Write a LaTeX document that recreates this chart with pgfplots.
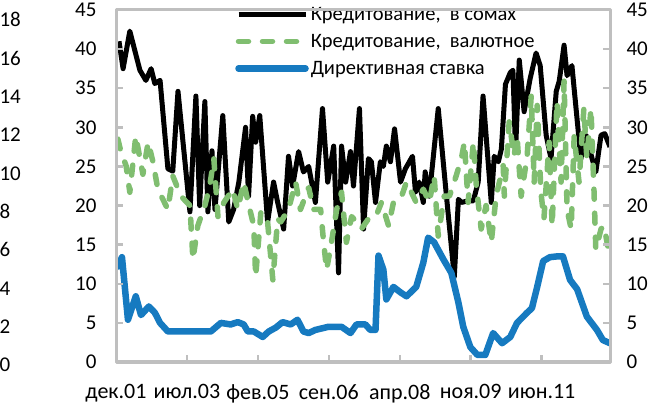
\documentclass[border=0pt]{standalone}
\usepackage{fontspec}
\setmainfont{Carlito}
\usepackage{pgfplots}
\usepackage{pgfplotstable}
\pgfplotsset{compat=1.18}

\definecolor{somblack}{RGB}{0,0,0}
\definecolor{valgreen}{RGB}{128,190,112}
\definecolor{rateblue}{RGB}{22,122,192}
\definecolor{framegray}{RGB}{191,191,191}

% m = months since Dec 2001, v = per cent (right-hand scale)
\pgfplotstableread{
m v
0.8 41.0
1.9 37.5
3.7 42.3
6.4 37.3
8.0 36.0
9.4 37.5
10.4 35.6
11.8 36.0
13.9 24.7
15.2 24.4
16.6 34.6
19.8 19.2
21.4 34.0
22.4 20.0
23.8 33.3
24.6 19.2
25.7 27.0
26.5 19.5
28.6 31.5
30.2 17.9
31.5 19.5
32.9 23.0
34.7 30.0
35.5 21.2
36.6 31.4
37.4 28.1
38.5 31.5
40.6 17.9
42.2 23.0
43.3 20.4
44.9 17.0
46.2 26.3
47.3 22.5
48.9 26.9
50.2 24.3
51.6 25.0
53.4 20.4
55.3 32.4
56.7 23.0
58.3 27.6
59.6 11.4
60.4 27.6
61.5 23.0
62.8 26.9
63.6 22.5
65.2 32.4
66.3 17.0
67.6 26.0
68.4 25.6
69.5 20.4
70.8 25.6
71.6 25.0
72.4 27.6
73.5 25.6
74.6 29.8
76.2 23.0
77.5 24.7
79.4 26.3
80.2 21.7
81.2 23.0
82.3 20.4
82.8 24.3
83.9 21.2
86.3 32.4
88.5 21.2
90.6 10.9
91.7 20.8
92.5 20.4
94.3 20.6
95.7 20.6
97.0 23.0
98.3 34.0
100.5 20.4
101.3 26.3
102.4 25.6
103.2 27.2
104.3 35.5
105.6 37.0
106.3 37.3
107.0 27.0
108.0 38.6
109.3 32.0
110.9 36.2
112.5 39.5
113.6 37.9
115.2 29.0
116.5 26.0
117.9 34.6
118.7 35.9
120.0 40.5
120.8 36.6
122.1 37.9
124.5 26.0
125.9 29.0
127.5 26.0
128.5 24.3
129.9 29.0
130.9 29.2
132.3 27.5
}\somtable

\pgfplotstableread{
m v
0.5 28.5
1.3 26.9
2.7 25.1
3.7 21.7
5.3 28.9
7.2 24.0
8.6 28.1
9.9 25.6
11.2 22.1
13.9 19.5
15.2 23.8
17.4 21.2
19.8 20.0
20.6 13.1
21.9 17.4
23.8 20.0
25.1 22.5
26.2 26.0
27.3 18.6
28.9 20.4
31.3 22.1
32.6 19.5
34.2 23.0
35.3 20.6
36.9 17.4
37.4 10.9
38.8 19.2
40.6 17.9
42.0 10.5
43.3 18.3
44.1 17.9
46.2 19.5
48.1 23.0
49.4 19.5
51.6 22.3
52.9 19.5
54.8 19.5
55.6 15.3
56.4 11.8
57.7 15.3
59.1 19.5
60.4 21.7
61.7 15.3
63.1 18.6
64.4 17.9
65.7 17.0
67.6 18.3
69.5 18.5
71.1 20.4
73.0 17.4
74.3 20.4
76.2 20.8
77.8 23.0
79.6 21.2
80.4 20.4
82.3 22.1
83.9 20.4
85.2 23.8
86.3 16.1
87.9 21.2
89.3 21.2
91.1 23.8
92.5 26.0
93.3 28.1
94.3 20.4
95.7 28.1
96.5 22.5
97.8 17.0
99.1 20.0
100.5 15.3
101.8 21.2
103.7 25.1
104.0 21.2
105.3 30.7
106.6 26.3
107.4 28.9
108.5 21.2
110.1 26.3
111.2 34.0
112.0 23.0
112.8 32.8
113.8 21.7
114.6 18.3
116.0 28.1
116.8 17.4
118.1 33.3
119.2 23.0
120.0 35.9
120.8 19.5
121.9 17.0
122.7 28.9
124.0 23.0
125.3 32.4
126.1 26.0
127.2 32.4
128.0 22.1
128.5 14.4
129.9 17.0
130.7 17.4
132.0 14.0
}\valtable

\pgfplotstableread{
m v
0.5 12.2
1.6 13.4
3.2 5.4
5.3 8.4
6.7 6.0
8.8 7.1
10.4 6.3
11.8 5.0
13.9 3.9
25.4 3.9
28.1 5.0
30.7 4.8
32.6 5.1
34.2 4.8
35.3 3.9
36.9 3.9
39.3 3.2
40.9 3.9
42.8 4.4
44.6 5.1
46.8 4.8
48.6 5.4
50.2 3.9
51.6 3.7
53.4 4.1
56.9 4.5
60.4 4.5
62.8 3.7
64.4 4.8
66.8 4.8
68.1 4.1
69.5 4.1
70.3 13.6
71.6 11.8
72.4 8.0
74.3 9.6
76.2 8.9
77.8 8.4
80.4 9.6
82.3 12.7
83.6 15.9
85.2 15.3
87.7 13.1
89.8 11.4
91.7 7.6
93.0 4.5
94.9 1.9
96.8 0.9
98.9 0.9
101.0 3.7
103.4 2.4
105.6 3.2
107.4 5.0
110.1 6.3
111.4 6.9
112.8 9.6
114.4 12.9
116.2 13.4
118.1 13.5
119.7 13.5
121.6 10.5
123.5 9.3
126.1 5.8
128.8 4.1
130.4 2.8
132.3 2.4
}\ratetable

\pgfplotsset{
  baseframe/.style={
    at={(116pt,42pt)}, anchor=south west,
    scale only axis, width=494pt, height=352pt,
    xmin=0, xmax=132.3,
    yticklabel style={font=\fontsize{21}{24}\selectfont},
    xticklabel style={font=\fontsize{22}{25}\selectfont},
    /pgf/number format/assume math mode=true,
  },
}

\begin{document}
\begin{tikzpicture}
\path[use as bounding box] (0pt,0pt) rectangle (658pt,404pt);

% outer left scale 0-18
\begin{axis}[
  baseframe,
  ymin=0, ymax=18.36,
  axis line style={draw=none},
  major tick length=0pt,
  xtick=\empty,
  ytick={0,2,...,18},
  yticklabel style={anchor=west, xshift=-120pt, yshift=-3pt},
]
\end{axis}

% right-hand labels 0-45
\begin{axis}[
  baseframe,
  ymin=0, ymax=45,
  axis line style={draw=none},
  major tick length=0pt,
  xtick=\empty,
  ytick={0,5,...,45},
  yticklabel pos=right,
  yticklabel style={anchor=west, xshift=13pt},
]
\end{axis}

% main axis
\begin{axis}[
  baseframe,
  ymin=0, ymax=45,
  axis line style={draw=framegray, line width=3pt},
  major tick style={draw=framegray, line width=2.5pt},
  major tick length=7pt, tick align=inside,
  xtick={0,19,38,57,76,95,114},
  xticklabels={дек.01,июл.03,фев.05,сен.06,апр.08,ноя.09,июн.11},
  xtick pos=lower,
  xticklabel style={yshift=-19pt},
  ytick={0,5,...,45},
  ytick pos=both,
  yticklabel pos=left,
  yticklabel style={xshift=-16pt},
  legend style={
    at={(axis description cs:0.241,1.015)}, anchor=north west,
    draw=none, fill=none, font=\fontsize{20.5}{23}\selectfont,
    inner sep=0pt, row sep=8.5pt,
  },
  legend cell align=left,
  legend image code/.code={\draw[#1] (0pt,0pt) -- (67pt,0pt);},
  line join=round,
]
\addplot[somblack, line width=5pt] table[x=m, y=v] {\somtable};
\addlegendentry{Кредитование,\ \ в сомах}
\addplot[valgreen, line width=5.5pt, line cap=round, dash pattern=on 10pt off 14pt] table[x=m, y=v] {\valtable};
\addlegendentry{Кредитование,\ \ валютное}
\addplot[rateblue, line width=6.5pt, line cap=round] table[x=m, y=v] {\ratetable};
\addlegendentry{Директивная ставка}
\end{axis}

% plot-area frame and inward ticks
\begin{scope}[framegray]
  \draw[line width=3pt] (116pt,42pt) -- (116pt,394pt);
  \draw[line width=3pt] (116pt,42pt) -- (610pt,42pt);
  \draw[line width=3pt] (116pt,394pt) -- (610pt,394pt);
  \draw[line width=3pt] (610pt,42pt) -- (610pt,394pt);
  \foreach \tx in {186.9,257.9,328.8,399.8,470.7,541.6}
    \draw[line width=2.5pt] (\tx pt,42pt) -- (\tx pt,49pt);
  \foreach \ty in {81.1,120.2,159.3,198.4,237.6,276.7,315.8,354.9}{
    \draw[line width=2.5pt] (116pt,\ty pt) -- (123pt,\ty pt);
    \draw[line width=2.5pt] (603pt,\ty pt) -- (610pt,\ty pt);
  }
\end{scope}
\end{tikzpicture}
\end{document}
